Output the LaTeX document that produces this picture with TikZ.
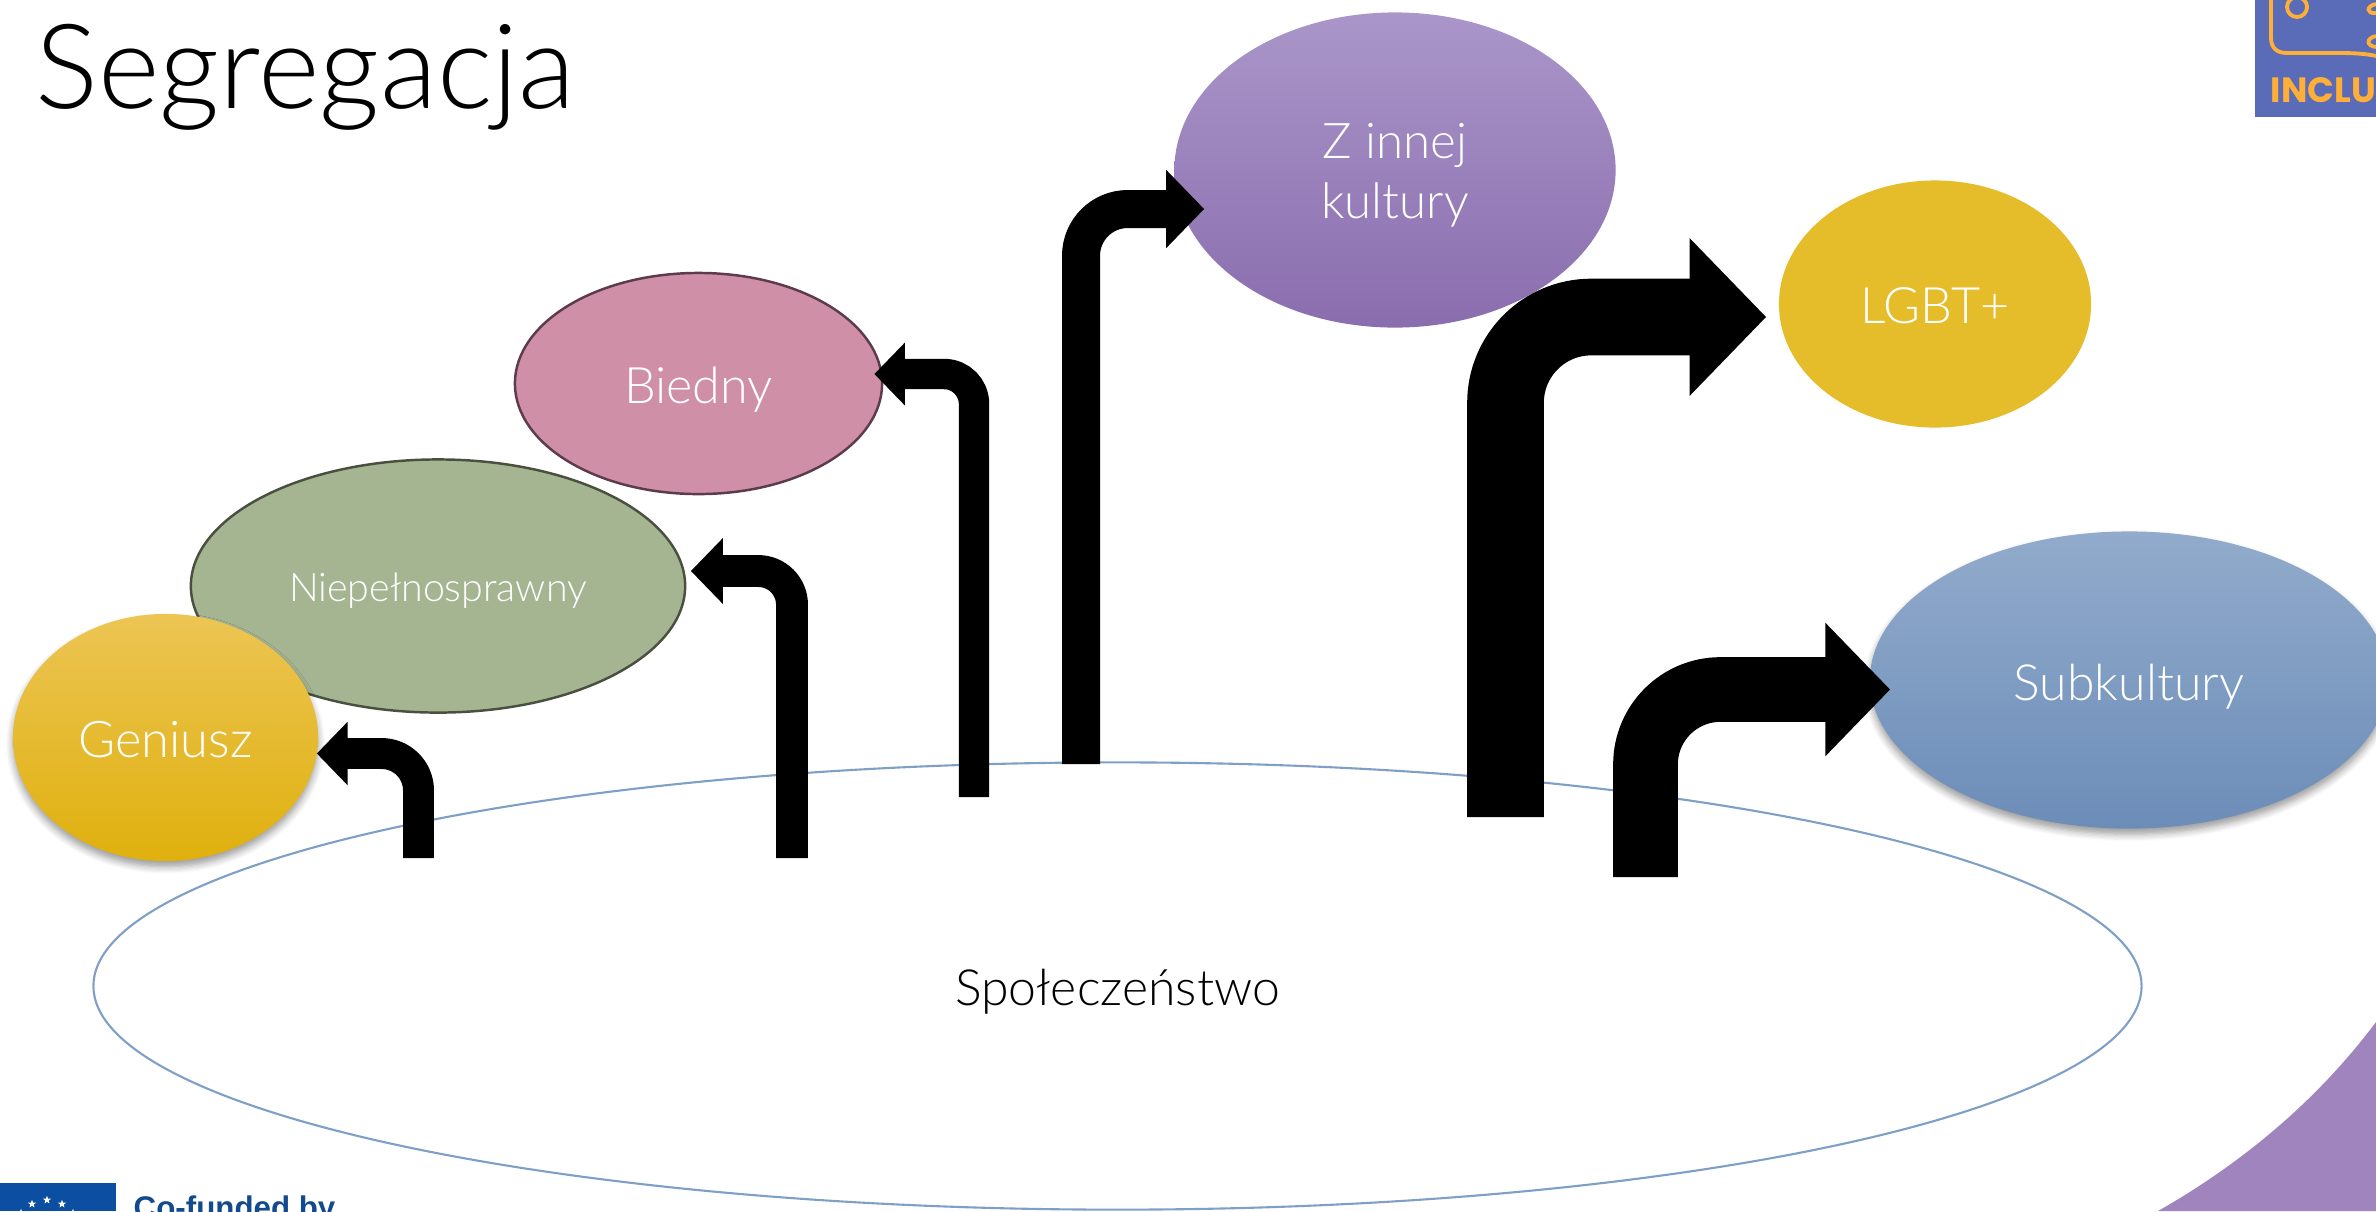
\documentclass[tikz,border=0pt]{standalone}
\usepackage{fontspec}
\setmainfont{Lato}[UprightFont=* Light]
\newfontfamily\logofont{Liberation Sans}
\newfontfamily\badgefont{Poppins}
\usepackage{tikz}
\usetikzlibrary{
  arrows.meta,
  shapes.geometric,
  shadows.blur
}
\definecolor{SocietyLine}{HTML}{7F9FC6}
\definecolor{CornerPurple}{HTML}{A084BE}
\definecolor{LogoBlue}{HTML}{5A6BB8}
\definecolor{LogoOrange}{HTML}{FFAF37}
\definecolor{FlagBlue}{HTML}{0B4EA2}
\definecolor{FundBlue}{HTML}{134A8E}
\tikzset{
  groupnode/.style 2 args = {ellipse, inner sep=0pt, text=white, align=center, text height=#2, text depth=0pt, font=\fontsize{#1}{17.2pt}\selectfont},
  softshadow/.style = {blur shadow={shadow xshift=0pt, shadow yshift=-1.6pt, shadow blur steps=6, shadow blur radius=2pt}},
  blockarrow/.style 2 args = {line width=#1, rounded corners=#2, -{Triangle[length=0pt 1, width=0pt 2]}},
  flagstar/.style = {star, star points=5, star point ratio=2.4, fill=white, inner sep=0pt, minimum size=2.4pt}
}

\begin{document}
\begin{tikzpicture}[x=0.01cm, y=-0.01cm]
  \useasboundingbox (0,0) rectangle (2376,1211);
  \clip (0,0) rectangle (2376,1211);

  % Corner and logos
  \fill [CornerPurple] (2158,1211) .. controls (2230,1170) and (2310,1110) .. (2376,1022) -- (2376,1211) -- cycle;

  \fill [LogoBlue] (2255,0) rectangle (2376,117);
  \draw [LogoOrange, line width=1.1pt] (2271,0) -- (2271,38) .. controls (2271,48) and (2277,53) .. (2287,53) -- (2340,53) .. controls (2355,53) and (2368,54) .. (2376,56);
  \draw [LogoOrange, line width=1.1pt] (2297,7) circle (10);
  \draw [LogoOrange, line width=1.1pt] (2376,4) .. controls (2366,6) and (2366,14) .. (2376,13);
  \draw [LogoOrange, line width=1.1pt] (2376,36) .. controls (2366,38) and (2366,46) .. (2376,47);
  \node [anchor=base west, inner sep=0pt, text=LogoOrange, font=\badgefont\bfseries\fontsize{10pt}{10pt}\selectfont] (inclu) at (2270,102) {INCLUSION};

  \fill [FlagBlue] (0,1183) rectangle (116,1211);
  \foreach \sx/\sy in {32/1204, 47/1200, 62/1204, 21/1213, 73/1213}
    \node [flagstar] at (\sx,\sy) {};
  \node [anchor=base west, inner sep=0pt, text=FundBlue, font=\logofont\bfseries\fontsize{8.9pt}{8.9pt}\selectfont] (fund) at (133,1218) {Co-funded by};

  % Title
  \node [anchor=base west, inner sep=0pt, font=\fontsize{33.5pt}{33.5pt}\selectfont] (title) at (35,108) {Segregacja};

  % Society
  \node [ellipse, draw=SocietyLine, line width=0.6pt, inner sep=0pt, minimum width=20.47cm, minimum height=4.47cm, text height=10.8pt, text depth=0pt, font=\fontsize{14.2pt}{14.2pt}\selectfont] (society) at (1117.5,986) {Społeczeństwo};

  % Groups
  \node [groupnode={11.2pt}{9pt}, fill={rgb,255:red,165;green,181;blue,146}, draw={rgb,255:red,74;green,80;blue,64}, line width=0.7pt, minimum width=4.94cm, minimum height=2.53cm] (disabled) at (438,586) {Niepełnosprawny};
  \node [groupnode={14.4pt}{11.6pt}, top color={rgb,255:red,236;green,197;blue,84}, middle color={rgb,255:red,242;green,196;blue,31}, bottom color={rgb,255:red,224;green,176;blue,14}, softshadow, minimum width=3.05cm, minimum height=2.47cm] (genius) at (165.5,737.5) {Geniusz};
  \node [groupnode={14.3pt}{11.6pt}, fill={rgb,255:red,207;green,143;blue,166}, draw={rgb,255:red,92;green,60;blue,76}, line width=0.7pt, minimum width=3.67cm, minimum height=2.21cm] (poor) at (698.5,383.5) {Biedny};
  \node [groupnode={14pt}{}, text depth=, top color={rgb,255:red,170;green,150;blue,201}, bottom color={rgb,255:red,138;green,109;blue,174}, minimum width=4.41cm, minimum height=3.15cm] (culture) at (1395,170) {\rule{0pt}{13pt}Z innej\\kultury};
  \node [groupnode={14.3pt}{11pt}, fill={rgb,255:red,229;green,188;blue,42}, minimum width=3.12cm, minimum height=2.47cm] (lgbt) at (1935,304) {LGBT+};
  \node [groupnode={14.2pt}{11.6pt}, top color={rgb,255:red,146;green,171;blue,204}, bottom color={rgb,255:red,108;green,141;blue,184}, softshadow, minimum width=5.18cm, minimum height=2.97cm] (subculture) at (2129,680) {Subkultury};

  % Link society to the groups
  \coordinate (startgenius)     at (418.5,858);
  \coordinate (startdisabled)   at (792,858);
  \coordinate (startpoor)       at (974,797);
  \coordinate (startculture)    at (1081,764);
  \coordinate (startlgbt)       at (1505.5,817);
  \coordinate (startsubculture) at (1645.5,877);

  \draw [blockarrow={8.8pt}{10.5pt}]  (startgenius)     |- ([shift={(-2,16)}]genius.east);
  \draw [blockarrow={9.07pt}{9.6pt}]  (startdisabled)   |- ([shift={(4.5,-15)}]disabled.east);
  \draw [blockarrow={8.65pt}{8.5pt}]  (startpoor)       |- ([shift={(-9,-9.5)}]poor.east);
  \draw [blockarrow={10.8pt}{13.3pt}] (startculture)    |- ([shift={(30.5,39)}]culture.west);
  \draw [blockarrow={21.8pt}{24.4pt}] (startlgbt)       |- ([shift={(-12,13)}]lgbt.west);
  \draw [blockarrow={18.4pt}{21.3pt}] (startsubculture) |- ([shift={(21,9.5)}]subculture.west);
\end{tikzpicture}
\end{document}
